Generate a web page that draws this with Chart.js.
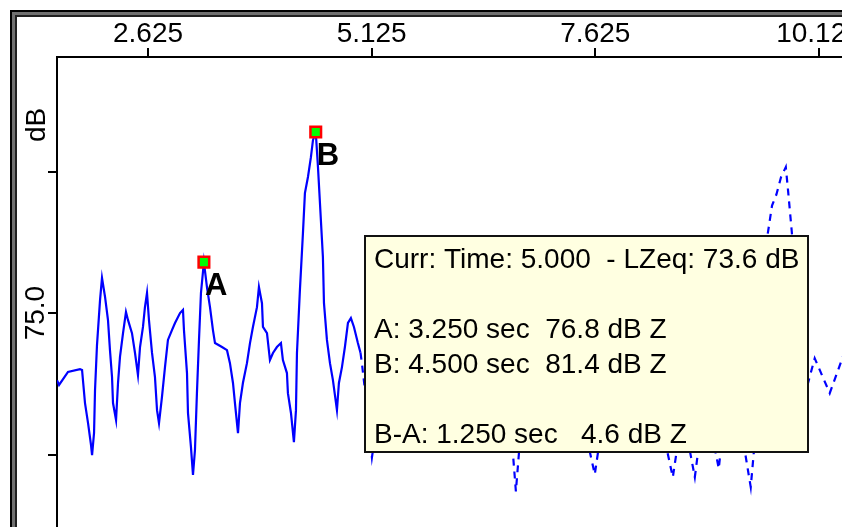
<!DOCTYPE html>
<html>
<head>
<meta charset="utf-8">
<script src="https://cdn.jsdelivr.net/npm/chart.js@4/dist/chart.umd.min.js"></script>
<style>
  html, body { margin: 0; padding: 0; background: #fff; overflow: hidden; }
  #wrap { width: 842px; height: 527px; overflow: hidden; }
</style>
</head>
<body>
<div id="wrap"><canvas id="chart" width="1000" height="600"></canvas></div>
<script>
// LZeq time history, seconds / dB (part under the info box is estimated)
const timeSec = [
  1.608, 1.631, 1.731, 1.865, 1.888, 1.921, 1.955, 1.988, 2.000, 2.022,
  2.033, 2.055, 2.089, 2.111, 2.145, 2.178, 2.200, 2.223, 2.234, 2.268,
  2.290, 2.312, 2.346, 2.379, 2.402, 2.446, 2.480, 2.513, 2.536, 2.569,
  2.591, 2.614, 2.636, 2.670, 2.703, 2.726, 2.748, 2.781, 2.815, 2.848,
  2.893, 2.927, 2.983, 3.016, 3.027, 3.061, 3.072, 3.105, 3.128, 3.150,
  3.172, 3.195, 3.217, 3.250, 3.284, 3.318, 3.351, 3.374, 3.452, 3.508,
  3.541, 3.575, 3.597, 3.631, 3.653, 3.686, 3.731, 3.765, 3.798, 3.843,
  3.865, 3.899, 3.910, 3.955, 3.988, 4.022, 4.066, 4.111, 4.133, 4.178,
  4.189, 4.223, 4.256, 4.279, 4.290, 4.323, 4.357, 4.379, 4.413, 4.446,
  4.469, 4.500, 4.525, 4.547, 4.580, 4.592, 4.625, 4.659, 4.692, 4.737,
  4.759, 4.793, 4.826, 4.860, 4.893, 4.927, 4.971, 5.000, 5.016, 5.050,
  5.128, 5.25, 5.40, 5.55, 5.70, 5.85, 6.00, 6.15, 6.30, 6.45,
  6.60, 6.70, 6.737, 6.78, 6.90, 7.05, 7.20, 7.35, 7.50, 7.619,
  7.72, 7.85, 8.00, 8.15, 8.30, 8.491, 8.60, 8.737, 8.85, 9.005,
  9.10, 9.25, 9.362, 9.45, 9.552, 9.60, 9.65, 9.70, 9.754, 9.78,
  9.82, 9.90, 10.00, 10.077, 10.245, 10.379, 10.45
];
const levelDb = [
  72.63, 72.46, 72.92, 73.02, 72.99, 71.82, 71.11, 70.34, 69.98, 70.76,
  72.28, 73.87, 75.46, 76.24, 75.57, 74.75, 73.69, 72.74, 71.82, 71.22,
  72.53, 73.45, 74.29, 75.04, 74.75, 74.29, 73.59, 72.81, 73.80, 74.51,
  75.21, 75.71, 74.75, 73.59, 72.74, 71.57, 71.11, 72.03, 73.09, 74.05,
  74.40, 74.65, 75.00, 75.11, 74.40, 72.88, 71.47, 70.27, 69.28, 70.16,
  72.17, 74.05, 75.71, 76.80, 75.92, 75.21, 74.40, 73.94, 73.80, 73.69,
  73.23, 72.53, 71.82, 70.76, 71.82, 72.53, 73.23, 73.94, 74.51, 75.21,
  75.92, 75.35, 74.51, 74.29, 73.34, 73.59, 73.80, 73.94, 73.34, 72.88,
  72.17, 71.47, 70.44, 71.57, 73.59, 75.81, 77.83, 79.24, 79.81, 80.51,
  81.11, 81.40, 80.16, 78.89, 76.98, 75.35, 74.05, 73.23, 72.63, 71.57,
  72.53, 73.09, 73.80, 74.65, 74.82, 74.51, 73.94, 73.60, 73.23, 72.28,
  69.90, 72.5, 74.5, 73.0, 75.5, 72.0, 73.5, 75.0, 71.5, 73.0,
  71.0, 70.2, 68.7, 70.4, 73.5, 75.5, 73.0, 74.0, 71.0, 69.3,
  71.5, 74.0, 76.0, 73.5, 72.0, 69.2, 71.5, 69.2, 72.0, 69.5,
  72.5, 71.0, 68.85, 72.0, 77.8, 78.8, 79.2, 79.8, 80.16, 79.3,
  77.9, 75.0, 72.5, 73.4, 72.17, 73.34, 74.0
];

const markerNames = ["A", "B"];
const markerTimes = [3.25, 4.5];
const markerLevels = [76.8, 81.4];

const cursorTime = 5.0;
const cursorLevel = 73.6;

const xTickValues = [2.625, 5.125, 7.625, 10.125];
const yTickValues = [70, 75, 80];
const yTickLabels = ["", "75.0", ""];

const xMin = 1.608, xMax = 12.148;
const yMin = 64.86, yMax = 84.05;

const infoLines = [
  "Curr: Time: " + cursorTime.toFixed(3) + "  - LZeq: " + cursorLevel.toFixed(1) + " dB",
  "",
  markerNames[0] + ": " + markerTimes[0].toFixed(3) + " sec  " + markerLevels[0].toFixed(1) + " dB Z",
  markerNames[1] + ": " + markerTimes[1].toFixed(3) + " sec  " + markerLevels[1].toFixed(1) + " dB Z",
  "",
  "B-A: " + (markerTimes[1] - markerTimes[0]).toFixed(3) + " sec   " + (markerLevels[1] - markerLevels[0]).toFixed(1) + " dB Z"
];

const fontFamily = "'Liberation Sans', Arial, sans-serif";

const framePlugin = {
  id: "frame",
  beforeDraw(chart) {
    const ctx = chart.ctx;
    const w = chart.width, h = chart.height;
    ctx.save();
    ctx.fillStyle = "#ffffff";
    ctx.fillRect(0, 0, w, h);
    ctx.fillStyle = "#000000";
    ctx.fillRect(10, 10, w, h);
    ctx.fillStyle = "#707070";
    ctx.fillRect(12, 12, w, h);
    ctx.fillStyle = "#202020";
    ctx.fillRect(15, 15, w, h);
    ctx.fillStyle = "#ffffff";
    ctx.fillRect(17, 17, w, h);
    ctx.restore();
  }
};

const overlayPlugin = {
  id: "overlay",
  afterDatasetsDraw(chart) {
    const ctx = chart.ctx;
    const meta = chart.getDatasetMeta(0);
    ctx.save();
    ctx.fillStyle = "#000";
    ctx.font = "bold 31px " + fontFamily;
    ctx.textBaseline = "alphabetic";
    meta.data.forEach((pt, i) => {
      ctx.fillText(markerNames[i], pt.x + 1, pt.y + 33);
    });
    // axis unit
    ctx.font = "28px " + fontFamily;
    ctx.translate(37, 125);
    ctx.rotate(-Math.PI / 2);
    ctx.textAlign = "center";
    ctx.textBaseline = "middle";
    ctx.fillText("dB", 0, 0);
    ctx.restore();
  },
  afterDraw(chart) {
    const ctx = chart.ctx;
    const x = chart.scales.x;
    const left = Math.round(x.getPixelForValue(cursorTime)) + 4;
    const top = chart.chartArea.top + 178;
    const w = 445, h = 218;
    ctx.save();
    ctx.fillStyle = "#ffffe1";
    ctx.fillRect(left, top, w, h);
    ctx.strokeStyle = "#111";
    ctx.lineWidth = 2;
    ctx.strokeRect(left + 1, top + 1, w - 2, h - 2);
    ctx.fillStyle = "#000";
    ctx.font = "28px " + fontFamily;
    ctx.textBaseline = "alphabetic";
    infoLines.forEach((line, i) => {
      if (line) ctx.fillText(line, left + 10, top + 33 + i * 35);
    });
    ctx.restore();
  }
};

function noPadding(scale) {
  scale.paddingLeft = 0;
  scale.paddingRight = 0;
  scale.paddingTop = 0;
  scale.paddingBottom = 0;
}

const lineData = timeSec.map((t, i) => ({ x: t, y: levelDb[i] }));
const markerData = markerTimes.map((t, i) => ({ x: t, y: markerLevels[i] }));

new Chart(document.getElementById("chart").getContext("2d"), {
  type: "line",
  data: {
    datasets: [
      {
        data: markerData,
        showLine: false,
        pointStyle: "rect",
        pointRadius: 7.5,
        pointBackgroundColor: "#00ff00",
        pointBorderColor: "#ff0000",
        pointBorderWidth: 2.5,
        order: 0,
      },
      {
        data: lineData,
        borderColor: "#0000ff",
        borderWidth: 2.2,
        pointRadius: 0,
        tension: 0,
        fill: false,
        order: 1,
        segment: {
          borderDash: ctx => ctx.p0.parsed.x >= cursorTime ? [7, 6] : undefined,
        },
      },
    ],
  },
  options: {
    responsive: false,
    animation: false,
    events: [],
    devicePixelRatio: 1,
    layout: { padding: 0, autoPadding: false },
    plugins: {
      legend: { display: false },
      tooltip: { enabled: false },
    },
    scales: {
      x: {
        type: "linear",
        position: "top",
        min: xMin,
        max: xMax,
        afterBuildTicks: scale => { scale.ticks = xTickValues.map(v => ({ value: v })); },
        afterFit: scale => { scale.height = 57; noPadding(scale); },
        border: { color: "#000", width: 2 },
        grid: { drawOnChartArea: false, color: "#000", lineWidth: 2, tickLength: 9 },
        ticks: {
          autoSkip: false,
          maxRotation: 0,
          padding: 0,
          color: "#000",
          font: { family: fontFamily, size: 28, lineHeight: 1 },
          callback: v => v.toFixed(3),
        },
      },
      y: {
        type: "linear",
        position: "left",
        min: yMin,
        max: yMax,
        afterBuildTicks: scale => { scale.ticks = yTickValues.map(v => ({ value: v })); },
        afterFit: scale => { scale.width = 57; noPadding(scale); },
        border: { color: "#000", width: 2 },
        grid: { drawOnChartArea: false, color: "#000", lineWidth: 2, tickLength: 9 },
        ticks: {
          autoSkip: false,
          minRotation: 90,
          maxRotation: 90,
          crossAlign: "center",
          padding: -16,
          color: "#000",
          font: { family: fontFamily, size: 28, lineHeight: 1 },
          callback: v => yTickLabels[yTickValues.indexOf(v)],
        },
      },
    },
  },
  plugins: [framePlugin, overlayPlugin],
});
</script>
</body>
</html>
